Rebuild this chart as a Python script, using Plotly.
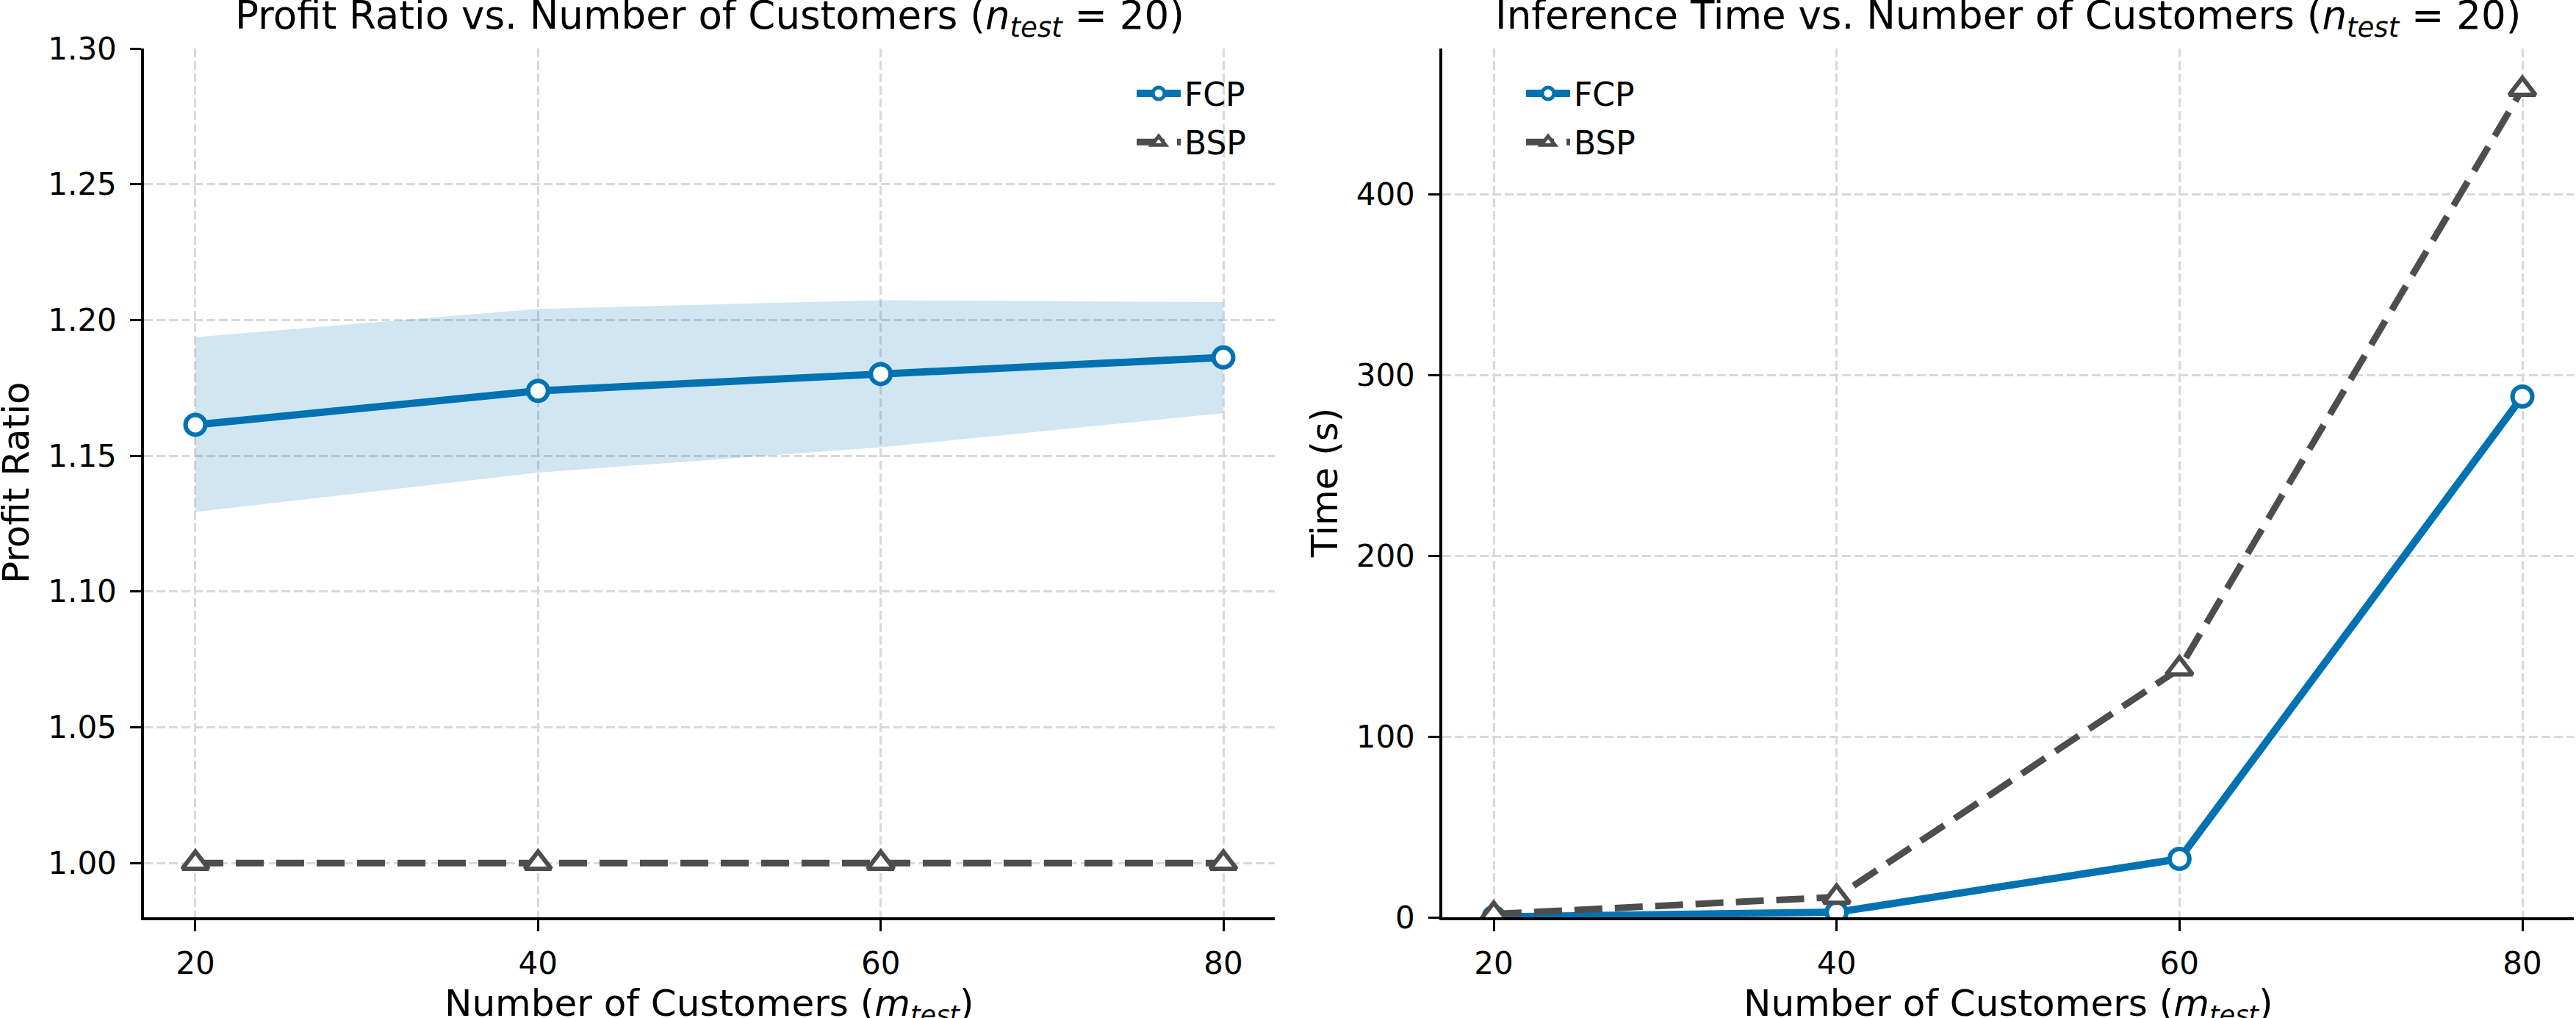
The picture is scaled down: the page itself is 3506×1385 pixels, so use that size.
import plotly.graph_objects as go

# ---------------- data ----------------
customers = [20, 40, 60, 80]

fcp_ratio = [1.1614, 1.1739, 1.1801, 1.1862]
fcp_ratio_upper = [1.1937, 1.2041, 1.2073, 1.2066]
fcp_ratio_lower = [1.1293, 1.1438, 1.1531, 1.1657]
bsp_ratio = [1.0, 1.0, 1.0, 1.0]

fcp_time = [0.2, 2.8, 32.3, 288.0]
bsp_time = [1.8, 11.2, 137.5, 458.0]

ratio_ticks = [1.00, 1.05, 1.10, 1.15, 1.20, 1.25, 1.30]
time_ticks = [0, 100, 200, 300, 400]

# ---------------- style ----------------
BLUE = "#0072B2"
GRAY = "#4D4D4D"
FILL = "rgba(0,114,178,0.18)"
GRID = "#D9D9D9"
FONT = "DejaVu Sans"

W, H = 3506, 1385
ML, MR, MT, MB = 196, 3, 66, 137
PW = W - ML - MR
PH = H - MT - MB
d1 = [0, 1539 / PW]
d2 = [(1963 - ML) / PW, 1]

fig = go.Figure()

# band
fig.add_trace(go.Scatter(x=customers, y=fcp_ratio_upper, mode="lines",
                         line=dict(width=0, color=BLUE), showlegend=False,
                         hoverinfo="skip", xaxis="x", yaxis="y"))
fig.add_trace(go.Scatter(x=customers, y=fcp_ratio_lower, mode="lines",
                         line=dict(width=0, color=BLUE), fill="tonexty",
                         fillcolor=FILL, showlegend=False, hoverinfo="skip",
                         xaxis="x", yaxis="y"))

circle_marker = dict(symbol="circle", size=27, color="white",
                     line=dict(color=BLUE, width=6))
tri_marker = dict(symbol="triangle-up", size=31, color="white",
                  line=dict(color=GRAY, width=6))
fcp_line = dict(color=BLUE, width=10)
bsp_line = dict(color=GRAY, width=9, dash="38px,17px")

# left panel
fig.add_trace(go.Scatter(x=customers, y=fcp_ratio, mode="lines+markers", name="FCP",
                         line=fcp_line, marker=circle_marker, xaxis="x", yaxis="y",
                         legend="legend", legendgroup="fcp"))
fig.add_trace(go.Scatter(x=customers, y=bsp_ratio, mode="lines+markers", name="BSP",
                         line=bsp_line, marker=tri_marker, xaxis="x", yaxis="y",
                         legend="legend", legendgroup="bsp"))
# right panel
fig.add_trace(go.Scatter(x=customers, y=fcp_time, mode="lines+markers", name="FCP",
                         line=fcp_line, marker=circle_marker, xaxis="x2", yaxis="y2",
                         legend="legend2", legendgroup="fcp2"))
fig.add_trace(go.Scatter(x=customers, y=bsp_time, mode="lines+markers", name="BSP",
                         line=bsp_line, marker=tri_marker, xaxis="x2", yaxis="y2",
                         legend="legend2", legendgroup="bsp2"))

axis_common = dict(
    showline=True, linecolor="black", linewidth=3.5, mirror=False,
    ticks="outside", ticklen=15, tickwidth=3.3, tickcolor="black",
    showgrid=True, gridcolor=GRID, gridwidth=3, griddash="12px,5px",
    zeroline=False, layer="above traces",
    tickfont=dict(family=FONT, size=42, color="black"),
)

legend_common = dict(xanchor="left", yanchor="top",
                     font=dict(family=FONT, size=44, color="black"),
                     bgcolor="rgba(0,0,0,0)", itemwidth=60,
                     traceorder="grouped", tracegroupgap=6)

fig.update_layout(
    width=W, height=H,
    margin=dict(l=ML, r=MR, t=MT, b=MB),
    paper_bgcolor="white", plot_bgcolor="white",
    font=dict(family=FONT, color="black"),
    xaxis=dict(domain=d1, range=[17, 83], tickvals=customers, anchor="y",
               ticklabelstandoff=8, **axis_common),
    yaxis=dict(domain=[0, 1], range=[0.98, 1.30], tickvals=ratio_ticks,
               tickformat=".2f", anchor="x", ticklabelstandoff=10, **axis_common),
    xaxis2=dict(domain=d2, range=[17, 83], tickvals=customers, anchor="y2",
                ticklabelstandoff=8, **axis_common),
    yaxis2=dict(domain=[0, 1], range=[0, 480.5], tickvals=time_ticks,
                anchor="x2", ticklabelstandoff=10, **axis_common),
    legend=dict(x=(1542 - ML) / PW, y=1 - (92 - MT) / PH, **legend_common),
    legend2=dict(x=(2072 - ML) / PW, y=1 - (92 - MT) / PH, **legend_common),
    showlegend=True,
)

title_font = dict(family=FONT, size=53, color="black")
label_font = dict(family=FONT, size=50, color="black")
sub = "(<i>n</i><sub><i>test</i></sub> = 20)"
xlab = "Number of Customers (<i>m</i><sub><i>test</i></sub>)"

annotations = [
    dict(text="Profit Ratio vs. Number of Customers " + sub, xref="x domain", yref="paper",
         x=0.5, y=1, xanchor="center", yanchor="bottom", yshift=5, showarrow=False,
         font=title_font),
    dict(text="Inference Time vs. Number of Customers " + sub, xref="x2 domain", yref="paper",
         x=0.5, y=1, xanchor="center", yanchor="bottom", yshift=5, showarrow=False,
         font=title_font),
    dict(text=xlab, xref="x domain", yref="paper", x=0.5, y=0, xanchor="center",
         yanchor="top", yshift=-86, showarrow=False, font=label_font),
    dict(text=xlab, xref="x2 domain", yref="paper", x=0.5, y=0, xanchor="center",
         yanchor="top", yshift=-86, showarrow=False, font=label_font),
    dict(text="Profit Ratio", xref="paper", yref="y domain", x=0, y=0.5,
         xanchor="center", yanchor="middle", xshift=22 - ML, textangle=-90,
         showarrow=False, font=label_font),
    dict(text="Time (s)", xref="paper", yref="y2 domain", x=d2[0], y=0.5,
         xanchor="center", yanchor="middle", xshift=1803 - 1963, textangle=-90,
         showarrow=False, font=label_font),
]
fig.update_layout(annotations=annotations)

fig.write_html("out.html")
